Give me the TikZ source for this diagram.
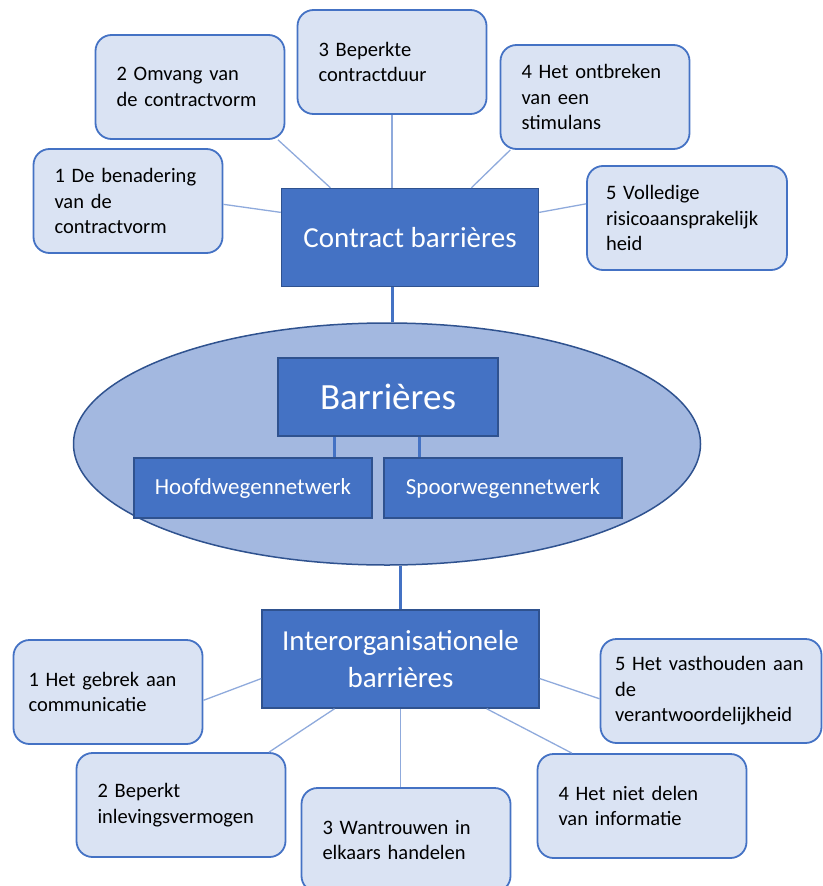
\documentclass[tikz,border=0pt]{standalone}
\usepackage{fontspec}
\setmainfont{Carlito}
\usetikzlibrary{shapes.geometric}
\definecolor{darkfill}{HTML}{4472C4}
\definecolor{darkline}{HTML}{2F528F}
\definecolor{itemfill}{HTML}{DAE3F3}
\definecolor{itemline}{HTML}{4472C4}
\definecolor{ovalfill}{HTML}{A3B8E0}
\definecolor{thinlink}{HTML}{8FAADC}
\begin{document}
\begin{tikzpicture}[x=1pt, y=-1pt,
  item/.style={draw=itemline, fill=itemfill, line width=1.8pt, rounded corners=16pt, align=left, text width=#1, inner xsep=21pt, inner ysep=0pt, minimum height=104pt, font=\fontsize{20.5}{25.5}\selectfont},
  head/.style={draw=darkline, fill=darkfill, line width=1.5pt, text=white, align=center, inner sep=0pt},
  link/.style={draw=thinlink, line width=1.3pt},
  stem/.style={draw=darkfill, line width=3pt}
]
\useasboundingbox (0,0) rectangle (822,886);

\node[ellipse, draw=darkline, fill=ovalfill, line width=1.5pt, inner sep=0pt, minimum width=627pt, minimum height=242pt] (ell) at (387,444) {};
\node[head, minimum width=220pt, minimum height=78pt, font=\fontsize{37}{42}\selectfont] (bar) at (388,397) {Barrières};
\node[head, minimum width=238pt, minimum height=60pt, font=\fontsize{23}{27}\selectfont] (hw) at (253,488) {Hoofdwegennetwerk};
\node[head, minimum width=238pt, minimum height=60pt, font=\fontsize{23}{27}\selectfont] (sw) at (503,488) {Spoorwegennetwerk};

\node[head, minimum width=257pt, minimum height=98pt, font=\fontsize{29}{36}\selectfont] (cb) at (410,237.5) {Contract barrières};
\node[head, minimum width=277pt, minimum height=98pt, font=\fontsize{29}{36.7}\selectfont] (io) at (400.5,659) {Interorganisationele\\barrières};

\node[item=147pt] (t1) at (128,201) {1 De benadering\\van de\\contractvorm};
\node[item=147pt] (t2) at (190,87) {2 Omvang van\\de contractvorm};
\node[item=147pt] (t3) at (392,62) {3 Beperkte\\contractduur};
\node[item=147pt] (t4) at (595,97) {4 Het ontbreken\\van een\\stimulans};
\node[item=162pt, inner xsep=19pt] (t5) at (687,218) {5 Volledige\\risicoaansprakelijk\\heid};

\node[item=159pt, inner xsep=15pt] (b1) at (108,692) {1 Het gebrek aan\\communicatie};
\node[item=167pt] (b2) at (181,805) {2 Beperkt\\inlevingsvermogen};
\node[item=167pt] (b3) at (406,840) {3 Wantrouwen in\\elkaars handelen};
\node[item=167pt] (b4) at (642,806) {4 Het niet delen\\van informatie};
\node[item=192pt, inner xsep=14.5pt] (b5) at (711,691) {5 Het vasthouden aan\\de\\verantwoordelijkheid};

\draw[link] (t1.358) -- (cb.169);
\draw[link] (t2.329) -- (cb.148);
\draw[link] (t3.south) -- (t3.south |- cb.north);
\draw[link] (t4.212) -- (cb.39);
\draw[link] (t5.172) -- (cb.11);

\draw[stem] (t3.south |- cb.south) -- (t3.south |- ell.north);
\draw[stem] ([xshift=-54pt]bar.south) -- ([xshift=-54pt]bar.south |- hw.north);
\draw[stem] ([xshift=31.6pt]bar.south) -- ([xshift=31.6pt]bar.south |- sw.north);
\draw[stem] (io.north |- ell.south) -- (io.north);

\draw[link] (b1.355) -- (io.188);
\draw[link] (b2.31) -- (io.217);
\draw[link] (io.south) -- (io.south |- b3.north);
\draw[link] (b4.143) -- (io.330);
\draw[link] (b5.184) -- (io.352);
\end{tikzpicture}
\end{document}
